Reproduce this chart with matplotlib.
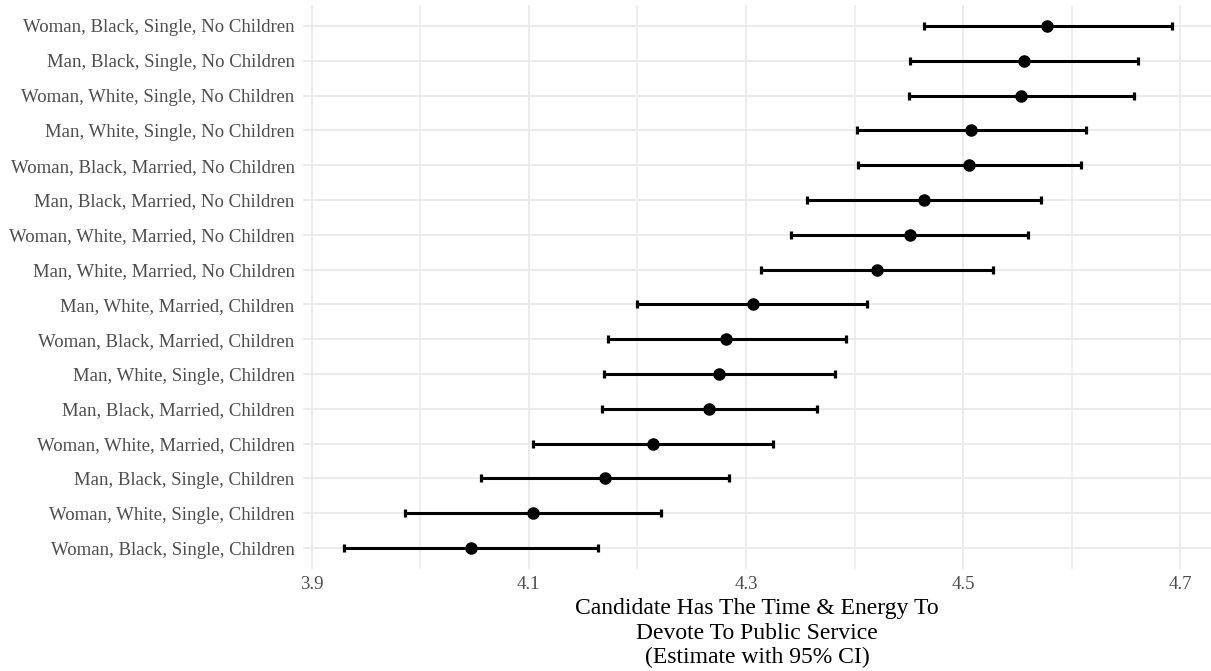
import matplotlib
matplotlib.use("Agg")
import matplotlib.pyplot as plt
from matplotlib.ticker import FixedLocator

# Profiles, listed from bottom row to top row
profiles = [
    "Woman, Black, Single, Children",
    "Woman, White, Single, Children",
    "Man, Black, Single, Children",
    "Woman, White, Married, Children",
    "Man, Black, Married, Children",
    "Man, White, Single, Children",
    "Woman, Black, Married, Children",
    "Man, White, Married, Children",
    "Man, White, Married, No Children",
    "Woman, White, Married, No Children",
    "Man, Black, Married, No Children",
    "Woman, Black, Married, No Children",
    "Man, White, Single, No Children",
    "Woman, White, Single, No Children",
    "Man, Black, Single, No Children",
    "Woman, Black, Single, No Children",
]
estimate = [4.047, 4.104, 4.170, 4.214, 4.266, 4.275, 4.282, 4.306,
            4.421, 4.451, 4.464, 4.505, 4.507, 4.553, 4.556, 4.577]
ci_low = [3.930, 3.986, 4.056, 4.104, 4.167, 4.169, 4.173, 4.200,
          4.314, 4.341, 4.356, 4.403, 4.402, 4.450, 4.451, 4.464]
ci_high = [4.164, 4.222, 4.284, 4.325, 4.365, 4.382, 4.392, 4.411,
           4.527, 4.560, 4.572, 4.608, 4.613, 4.657, 4.661, 4.692]

x_ticks = [3.9, 4.1, 4.3, 4.5, 4.7]
x_minor = [4.0, 4.2, 4.4, 4.6]
x_title = "Candidate Has The Time & Energy To\nDevote To Public Service\n(Estimate with 95% CI)"

serif = ["Liberation Serif", "DejaVu Serif"]

W, H = 1211, 671
fig = plt.figure(figsize=(W / 100, H / 100), dpi=100)
left, right, top, bottom = 302.9, 1210.9, 5.1, 568.9
ax = fig.add_axes([left / W, 1 - bottom / H, (right - left) / W, (bottom - top) / H])

ypos = list(range(len(profiles)))
err_lo = [e - l for e, l in zip(estimate, ci_low)]
err_hi = [h - e for e, h in zip(estimate, ci_high)]
ax.errorbar(estimate, ypos, xerr=[err_lo, err_hi], fmt="o", color="black",
            ecolor="black", elinewidth=2.2, capsize=3.1, capthick=2.3,
            markersize=8, zorder=3)

ax.set_xlim(3.892, 4.728)
ax.set_ylim(-0.6, len(profiles) - 0.4)
ax.xaxis.set_major_locator(FixedLocator(x_ticks))
ax.xaxis.set_minor_locator(FixedLocator(x_minor))
ax.set_yticks(ypos)
ax.set_yticklabels(profiles)
ax.set_xticklabels([f"{t:.1f}" for t in x_ticks])

ax.grid(which="major", axis="both", color="#EBEBEB", linewidth=1.4, zorder=0)
ax.grid(which="minor", axis="x", color="#EBEBEB", linewidth=1.1, zorder=0)
ax.set_axisbelow(True)
for s in ax.spines.values():
    s.set_visible(False)
ax.tick_params(axis="both", which="both", length=0)
ax.tick_params(axis="y", pad=6)
ax.tick_params(axis="x", pad=5)
for lab in ax.get_yticklabels() + ax.get_xticklabels():
    lab.set_family(serif)
    lab.set_fontsize(13.5)
    lab.set_color("#4D4D4D")

ax.set_xlabel(x_title, family=serif, fontsize=17, color="black",
              labelpad=4, linespacing=1.2)

fig.savefig("out.png", dpi=100, facecolor="white")
